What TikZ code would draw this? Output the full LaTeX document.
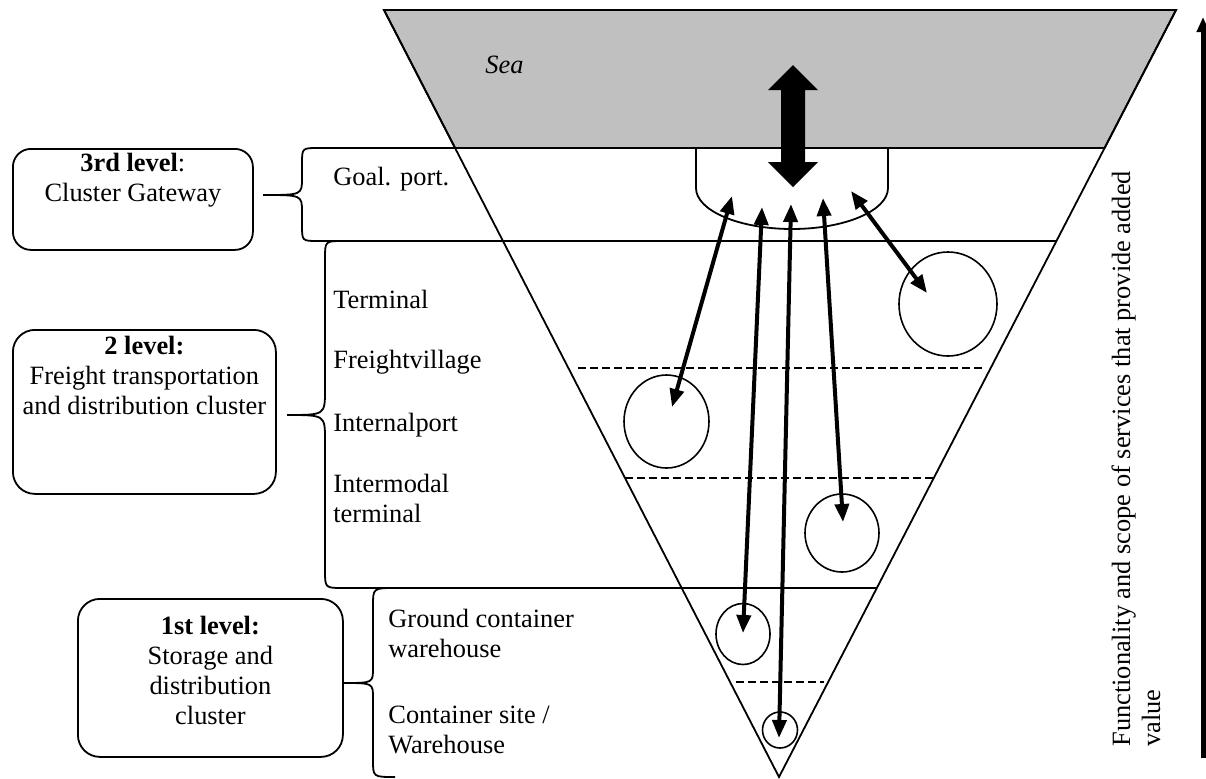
\documentclass[tikz,border=0pt]{standalone}
\usepackage{fontspec}
\setmainfont{Liberation Serif}
\usetikzlibrary{arrows.meta,shapes.geometric}
\definecolor{seagray}{HTML}{C0C0C0}
\begin{document}
\begin{tikzpicture}[x=0.5pt,y=-0.5pt,
  font=\fontsize{13.2}{15}\selectfont,
  thinline/.style={line width=0.9pt},
  lvlbox/.style={draw, line width=0.9pt, inner sep=0pt, anchor=north west},
  lbl/.style={anchor=base west, inner sep=0pt},
  dashline/.style={line width=0.8pt, dash pattern=on 4pt off 2pt},
  blob/.style={draw, ellipse, line width=0.8pt, inner sep=0pt},
  flow/.style={line width=2pt, {Triangle[length=9pt,width=7pt]}-{Triangle[length=9pt,width=7pt]}}
]
\useasboundingbox (0,0) rectangle (1206,778);

% triangle corners and level lines
\coordinate (TL) at (384,10);
\coordinate (TR) at (1176,10);
\coordinate (AP) at (779,777);
\coordinate (S1L) at (455.1,148);
\coordinate (S1R) at (1104.6,148);
\coordinate (L2R) at (1056.5,241);
\coordinate (L3R) at (877,588);

% sea
\filldraw[fill=seagray, thinline] (TL) -- (TR) -- (S1R) -- (S1L) -- cycle;
\node[lbl, font=\fontsize{13.2}{15}\selectfont\itshape] (sea) at (485,73) {Sea};

% funnel
\draw[thinline, line join=miter] (TL) -- (TR) -- (AP) -- cycle;

% braces with level lines
\draw[thinline] (S1R) -- (318,148) .. controls (302,148) .. (302,164) -- (302,178)
  .. controls (302,195) and (302,195) .. (263,195)
  .. controls (302,195) and (302,195) .. (302,212) -- (302,225)
  .. controls (302,241) .. (318,241) -- (L2R);
\draw[thinline] (343,241) .. controls (325,241) .. (325,259) -- (325,390)
  .. controls (325,415) and (325,415) .. (287,415)
  .. controls (325,415) and (325,415) .. (325,440) -- (325,570)
  .. controls (325,588) .. (343,588) -- (L3R);
\draw[thinline] (395,588) .. controls (373,588) .. (373,606) -- (373,668)
  .. controls (373,683) and (373,683) .. (343,683)
  .. controls (373,683) and (373,683) .. (373,698) -- (373,760)
  .. controls (373,777) .. (395,777);

% dashed separators
\draw[dashline] (578,368) -- (985,368);
\draw[dashline] (625,478) -- (933,478);
\draw[dashline] (736,682) -- (824,682);

% port
\draw[thinline] (696,148) -- (696,188) .. controls (696,210.6) and (739,229) .. (792,229)
  .. controls (845,229) and (888,210.6) .. (888,188) -- (888,148);

% big double arrow sea <-> port
\fill (793,65) -- (818,90) -- (805,90) -- (805,162) -- (818,162) -- (793,187)
  -- (768,162) -- (781,162) -- (781,90) -- (768,90) -- cycle;

% facilities
\node[blob, minimum width=49pt, minimum height=52pt] (c1) at (948,304) {};
\node[blob, minimum width=42.5pt, minimum height=46.5pt] (c2) at (666.5,421.5) {};
\node[blob, minimum width=37pt, minimum height=39pt] (c3) at (842,533) {};
\node[blob, minimum width=27pt, minimum height=30.5pt] (c4) at (743,634) {};
\node[blob, minimum width=17.5pt, minimum height=18pt] (c5) at (780,730) {};

% arrow ends
\coordinate (a1) at (732,196); \coordinate (a2) at (672,407);
\coordinate (b1) at (762,207); \coordinate (b2) at (743,633);
\coordinate (d1) at (791,204); \coordinate (d2) at (779,738);
\coordinate (e1) at (823,198); \coordinate (e2) at (843,522);
\coordinate (f1) at (851,191); \coordinate (f2) at (927,293);
\draw[flow] (a1) -- (a2);
\draw[flow] (b1) -- (b2);
\draw[flow] (d1) -- (d2);
\draw[flow] (e1) -- (e2);
\draw[flow] (f1) -- (f2);

% level boxes
\node[lvlbox, rounded corners=9pt] (b3) at (12,148)
  {\begin{minipage}[c][50.5pt][t]{120pt}\centering\vspace*{2.1pt}\textbf{3rd level}:\\Cluster Gateway\end{minipage}};
\node[lvlbox, rounded corners=11pt] (b2) at (12,329)
  {\begin{minipage}[c][82pt][t]{131.5pt}\centering\vspace*{3.1pt}\textbf{2 level:}\\Freight transportation\\and distribution cluster\end{minipage}};
\node[lvlbox, rounded corners=11pt] (b1) at (77,598)
  {\begin{minipage}[c][79pt][t]{132.5pt}\centering\vspace*{8.6pt}\textbf{1st level:}\\Storage and\\distribution\\cluster\end{minipage}};

% level labels
\node[lbl] (goal) at (333,185) {Goal. port.};
\node[lbl] (term) at (333,308) {Terminal};
\node[lbl] (fv) at (333,368) {Freightvillage};
\node[lbl] (ip) at (333,431) {Internalport};
\node[lbl] (it) at (333,492) {\begin{tabular}[t]{@{}l@{}}Intermodal\\terminal\end{tabular}};
\node[lbl] (gc) at (388,627) {\begin{tabular}[t]{@{}l@{}}Ground container\\warehouse\end{tabular}};
\node[lbl] (cs) at (388,723) {\begin{tabular}[t]{@{}l@{}}Container site /\\Warehouse\end{tabular}};

% value axis
\coordinate (v1) at (1203,758);
\coordinate (v2) at (1203,17);
\draw[line width=2.5pt, -{Triangle[length=7.5pt,width=6pt]}] (v1) -- (v2);
\node[lbl, rotate=90] (ax1) at (1130,747) {Functionality and scope of services that provide added};
\node[lbl, rotate=90] (ax2) at (1160,747) {value};
\end{tikzpicture}
\end{document}
